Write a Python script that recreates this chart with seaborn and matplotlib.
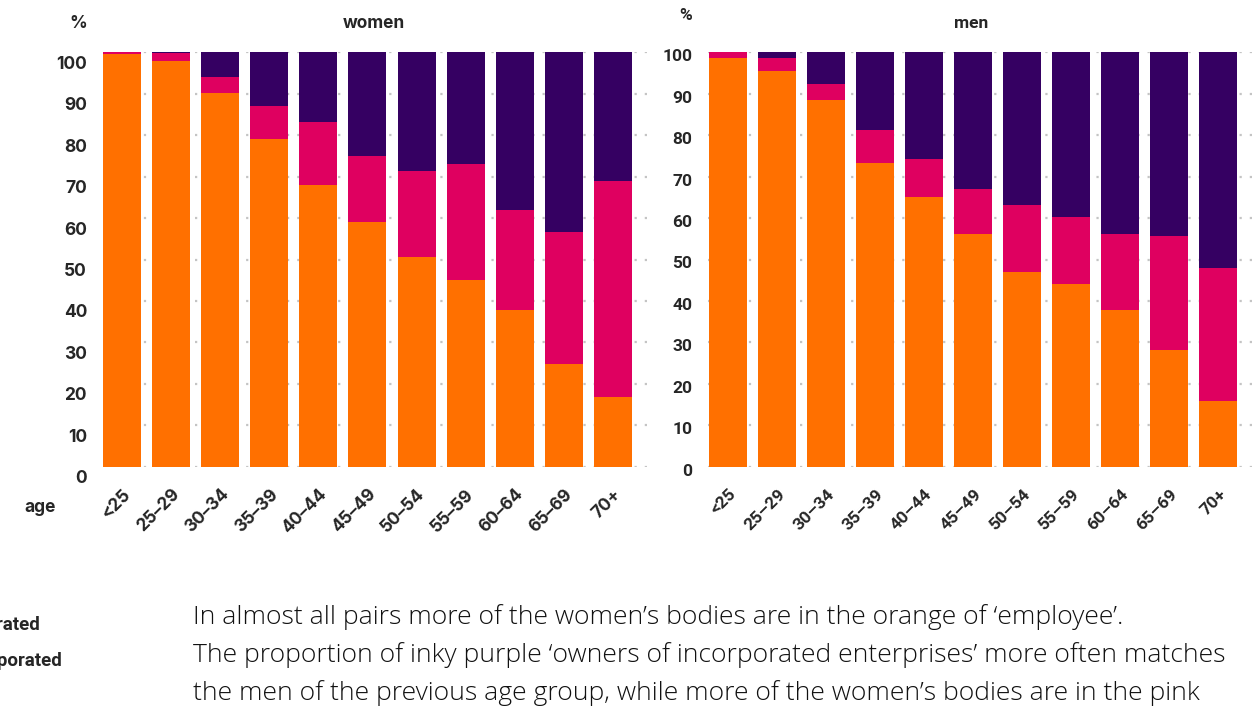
import matplotlib
matplotlib.use('Agg')
import matplotlib.pyplot as plt
import matplotlib.transforms as mtransforms
import pandas as pd
import seaborn as sns

# shares (%)
ages = ['<25', '25–29', '30–34', '35–39', '40–44', '45–49',
        '50–54', '55–59', '60–64', '65–69', '70+']

women_employee = [99.6, 97.9, 90.2, 79.1, 68.0, 59.0, 50.6, 45.0, 37.8, 24.8, 16.8]
women_unincorp = [0.4, 1.9, 3.8, 7.9, 15.2, 16.0, 20.8, 28.0, 24.1, 31.8, 52.1]
women_incorp = [0.0, 0.2, 6.0, 13.0, 16.8, 25.0, 28.6, 27.0, 38.1, 43.4, 31.1]

men_employee = [98.6, 95.5, 88.5, 73.2, 65.0, 56.1, 47.1, 44.2, 37.9, 28.2, 15.9]
men_unincorp = [1.4, 3.1, 3.9, 8.1, 9.2, 11.0, 16.0, 16.0, 18.2, 27.5, 32.1]
men_incorp = [0.0, 1.4, 7.6, 18.7, 25.8, 32.9, 36.9, 39.8, 43.9, 44.3, 52.0]

yticks = [0, 10, 20, 30, 40, 50, 60, 70, 80, 90, 100]

ORANGE = '#FF7000'
PINK = '#DF0060'
PURPLE = '#350062'
GRID = '#c4c4c4'

sns.set_style('white')
plt.rcParams['font.family'] = ['Inter', 'DejaVu Sans']

W, H = 1255, 711
fig = plt.figure(figsize=(W / 100, H / 100), dpi=100)


def shift(dx, dy):
    return mtransforms.ScaledTranslation(dx / 100, -dy / 100, fig.dpi_scale_trans)


def panel(left, emp, uninc, inc, label_font, label_dy):
    ax = fig.add_axes([left / W, (H - 466.7) / H, 544.6 / W, 414.4 / H])
    df = pd.DataFrame({'age': ages, 'emp': emp, 'uninc': uninc, 'inc': inc})
    df['lvl2'] = df['emp'] + df['uninc']
    df['lvl3'] = df['lvl2'] + df['inc']
    # stacked by overdrawing cumulative totals
    for col, c in [('lvl3', PURPLE), ('lvl2', PINK), ('emp', ORANGE)]:
        sns.barplot(data=df, x='age', y=col, color=c, saturation=1,
                    width=0.775, ax=ax, zorder=3, linewidth=0, edgecolor='none')
    ax.set_xlim(-0.39, 10.71)
    ax.set_ylim(0, 100)
    ax.set_yticks(yticks)
    ax.set_yticklabels([str(t) for t in yticks], fontsize=12.5,
                       fontweight='bold', family=label_font)
    ax.set_xticks(range(len(ages)))
    ax.set_xticklabels(ages, rotation=45, ha='right', va='center',
                       rotation_mode='anchor', fontsize=12.5,
                       fontweight='bold', family=label_font)
    ax.tick_params(axis='both', length=0)
    ax.tick_params(axis='y', pad=11.5)
    ax.tick_params(axis='x', pad=18)
    ax.set_xlabel('')
    ax.set_ylabel('')
    for s in ax.spines.values():
        s.set_visible(False)
    ax.yaxis.grid(True, color=GRID, linewidth=1.6, linestyle=(0, (1, 3.6)))
    ax.xaxis.grid(False)
    ax.set_axisbelow(True)
    for lab in ax.get_yticklabels():
        lab.set_transform(lab.get_transform() + shift(0, label_dy))
    for lab in ax.get_xticklabels():
        lab.set_transform(lab.get_transform() + shift(6, 0))
    return ax


ax_w = panel(103, women_employee, women_unincorp, women_incorp, 'Inter', 10)
ax_m = panel(708.4, men_employee, men_unincorp, men_incorp, 'Roboto', 3)

# headers
fig.text(87 / W, 1 - 23 / H, '%', ha='right', va='center',
         fontsize=12.5, fontweight='bold', family='Inter')
fig.text(374 / W, 1 - 23 / H, 'women', ha='center', va='center',
         fontsize=12.5, fontweight='bold', family='Inter')
fig.text(692 / W, 1 - 15 / H, '%', ha='right', va='center',
         fontsize=12.5, fontweight='bold', family='Roboto')
fig.text(971 / W, 1 - 23 / H, 'men', ha='center', va='center',
         fontsize=12.5, fontweight='bold', family='Roboto')
fig.text(40 / W, 1 - 507 / H, 'age', ha='center', va='center',
         fontsize=12.5, fontweight='bold', family='Inter')

# legend labels, cut off at the left edge as in the source
fig.text(40 / W, 1 - 625 / H, 'self-employed, unincorporated', ha='right',
         va='center', fontsize=13.5, fontweight='bold', family='Roboto')
fig.text(62 / W, 1 - 661 / H, 'self-employed, incorporated', ha='right',
         va='center', fontsize=13.5, fontweight='bold', family='Roboto')

# caption
caption = [
    'In almost all pairs more of the women’s bodies are in the orange of ‘employee’.',
    'The proportion of inky purple ‘owners of incorporated enterprises’ more often matches',
    'the men of the previous age group, while more of the women’s bodies are in the pink',
]
texts = []
for i, line in enumerate(caption):
    texts.append(fig.text(193 / W, 1 - (617 + 38 * i) / H, line, ha='left',
                          va='center', fontsize=16.5, fontweight='light',
                          family='Open Sans', color='#111111'))

# fit first caption line to its width in the source (193 -> 1123 px)
renderer = fig.canvas.get_renderer()
w0 = texts[0].get_window_extent(renderer).width
size = 16.5 * 930 / w0
for t in texts:
    t.set_fontsize(size)

fig.savefig('out.png', dpi=100)
